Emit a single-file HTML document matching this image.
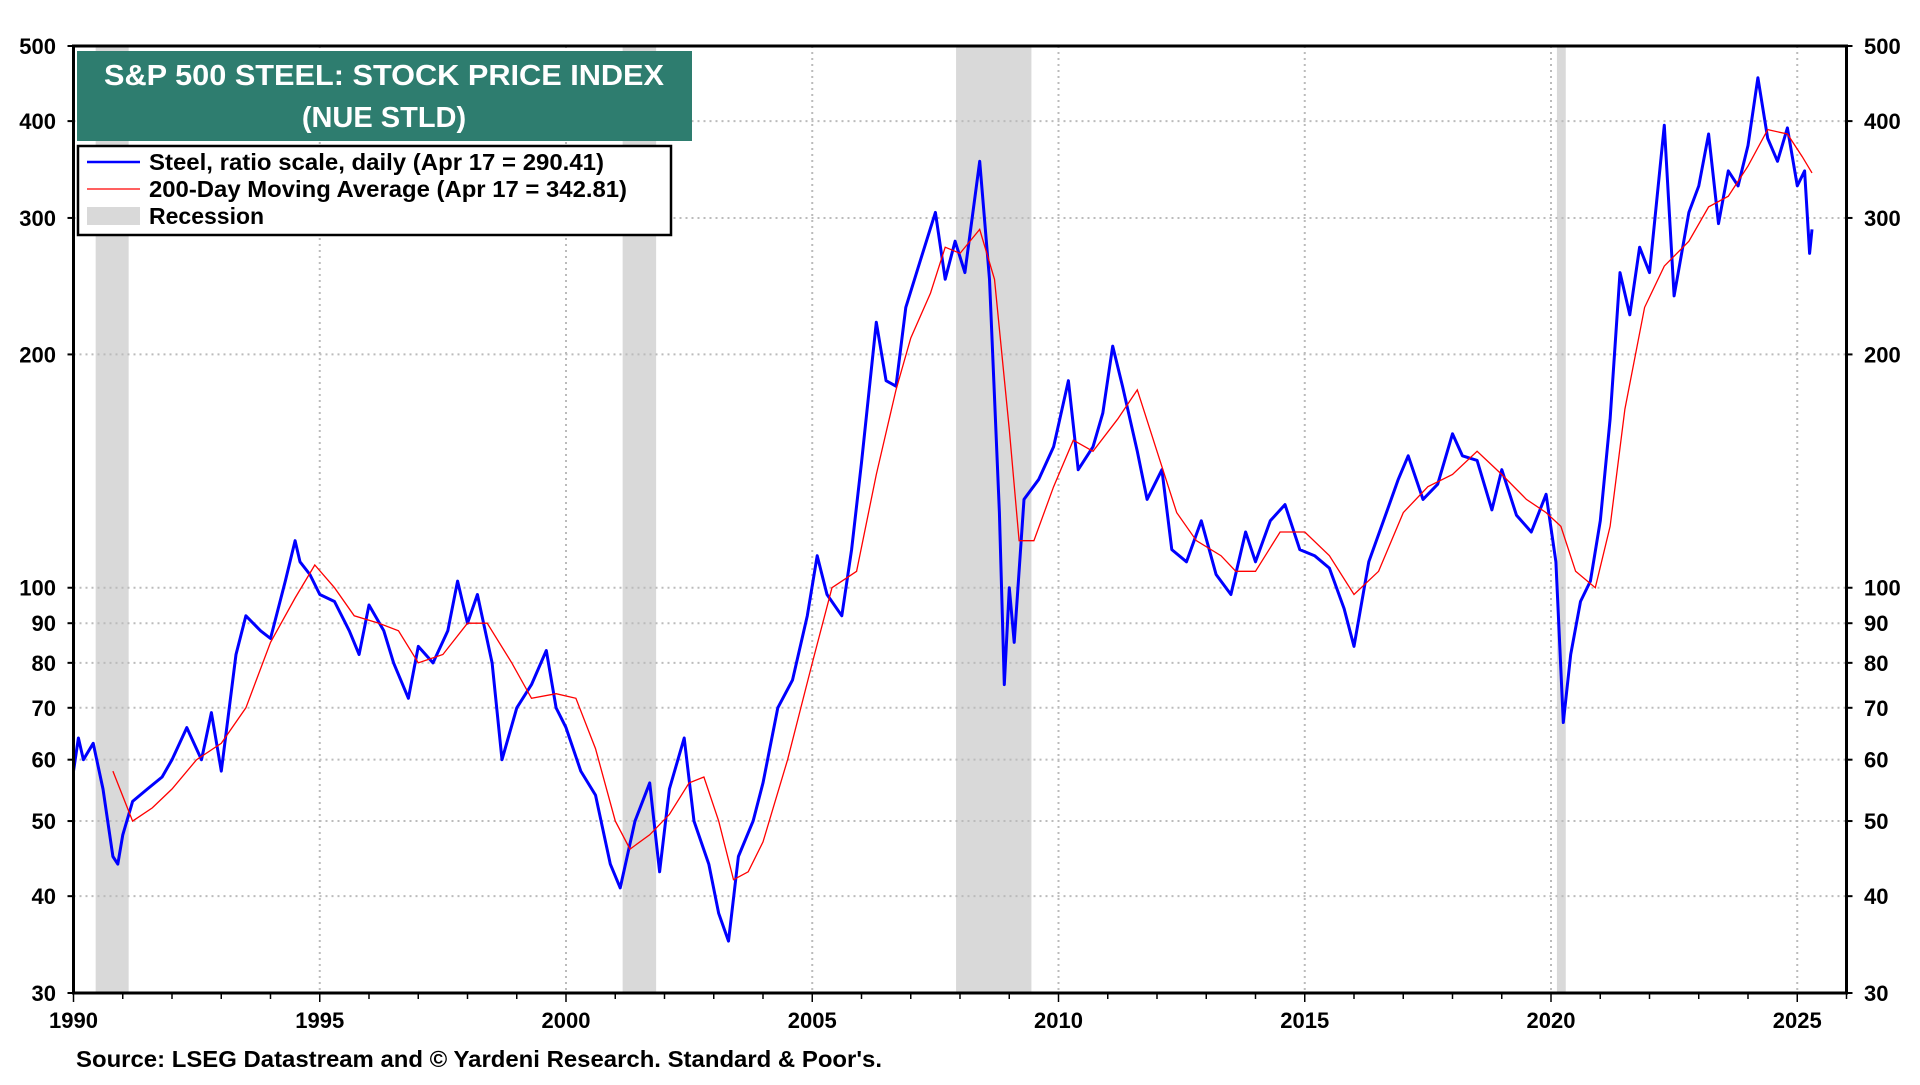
<!DOCTYPE html>
<html><head><meta charset="utf-8"><style>
body{margin:0;background:#fff;}
svg text{font-family:"Liberation Sans",Arial,sans-serif;font-weight:bold;}
</style></head><body>
<svg id="chart" width="1920" height="1080" viewBox="0 0 1920 1080" xmlns="http://www.w3.org/2000/svg">
<g id="rec"></g><g id="grid"></g><g id="series"></g><g id="axes"></g>
<rect x="77" y="51" width="615" height="90" fill="#2e7d6f"/>
<text x="384" y="85" fill="#fff" font-size="29" text-anchor="middle" textLength="560" lengthAdjust="spacingAndGlyphs">S&amp;P 500 STEEL: STOCK PRICE INDEX</text>
<text x="384" y="127" fill="#fff" font-size="29" text-anchor="middle">(NUE STLD)</text>
<g>
<rect x="78" y="146" width="593" height="89" fill="#fff" stroke="#000" stroke-width="2.5"/>
<line x1="87" y1="162" x2="140" y2="162" stroke="#0000ff" stroke-width="2.5"/>
<text x="149" y="170" font-size="23" textLength="455" lengthAdjust="spacingAndGlyphs">Steel, ratio scale, daily (Apr 17 = 290.41)</text>
<line x1="87" y1="189" x2="140" y2="189" stroke="#ff0000" stroke-width="1.2"/>
<text x="149" y="197" font-size="23" textLength="478" lengthAdjust="spacingAndGlyphs">200-Day Moving Average (Apr 17 = 342.81)</text>
<rect x="87" y="207" width="53" height="18" fill="#d9d9d9"/>
<text x="149" y="224" font-size="23">Recession</text>
</g>
<text x="76" y="1067" font-size="23" textLength="806" lengthAdjust="spacingAndGlyphs">Source: LSEG Datastream and © Yardeni Research. Standard &amp; Poor's.</text>
</svg>
<script>
const steelYears=[1990.0,1990.1,1990.2,1990.4,1990.6,1990.8,1990.9,1991.0,1991.2,1991.5,1991.8,1992.0,1992.3,1992.6,1992.8,1993.0,1993.3,1993.5,1993.8,1994.0,1994.3,1994.5,1994.6,1994.8,1995.0,1995.3,1995.6,1995.8,1996.0,1996.3,1996.5,1996.8,1997.0,1997.3,1997.6,1997.8,1998.0,1998.2,1998.5,1998.7,1999.0,1999.3,1999.6,1999.8,2000.0,2000.3,2000.6,2000.9,2001.1,2001.4,2001.7,2001.9,2002.1,2002.4,2002.6,2002.9,2003.1,2003.3,2003.5,2003.8,2004.0,2004.3,2004.6,2004.9,2005.1,2005.3,2005.6,2005.8,2006.0,2006.3,2006.5,2006.7,2006.9,2007.2,2007.5,2007.7,2007.9,2008.1,2008.4,2008.6,2008.8,2008.9,2009.0,2009.1,2009.3,2009.6,2009.9,2010.2,2010.4,2010.7,2010.9,2011.1,2011.3,2011.6,2011.8,2012.1,2012.3,2012.6,2012.9,2013.2,2013.5,2013.8,2014.0,2014.3,2014.6,2014.9,2015.2,2015.5,2015.8,2016.0,2016.3,2016.6,2016.9,2017.1,2017.4,2017.7,2018.0,2018.2,2018.5,2018.8,2019.0,2019.3,2019.6,2019.9,2020.1,2020.25,2020.4,2020.6,2020.8,2021.0,2021.2,2021.4,2021.6,2021.8,2022.0,2022.3,2022.5,2022.8,2023.0,2023.2,2023.4,2023.6,2023.8,2024.0,2024.2,2024.4,2024.6,2024.8,2025.0,2025.15,2025.25,2025.3];
const steelValues=[58,64,60,63,55,45,44,48,53,55,57,60,66,60,69,58,82,92,88,86,102,115,108,104,98,96,88,82,95,88,80,72,84,80,88,102,90,98,80,60,70,75,83,70,66,58,54,44,41,50,56,43,55,64,50,44,38,35,45,50,56,70,76,92,110,98,92,112,145,220,185,182,230,265,305,250,280,255,355,250,125,75,100,85,130,138,152,185,142,152,168,205,182,150,130,142,112,108,122,104,98,118,108,122,128,112,110,106,94,84,108,122,138,148,130,136,158,148,146,126,142,124,118,132,108,67,82,96,102,122,165,255,225,275,255,395,238,305,330,385,295,345,330,372,455,380,355,392,330,345,270,290];
const maYears=[1990.8,1991.2,1991.6,1992.0,1992.5,1993.0,1993.5,1994.0,1994.5,1994.9,1995.3,1995.7,1996.2,1996.6,1997.0,1997.5,1998.0,1998.4,1998.9,1999.3,1999.8,2000.2,2000.6,2001.0,2001.3,2001.7,2002.1,2002.5,2002.8,2003.1,2003.4,2003.7,2004.0,2004.5,2005.0,2005.4,2005.9,2006.3,2006.7,2007.0,2007.4,2007.7,2008.0,2008.4,2008.7,2009.0,2009.2,2009.5,2009.9,2010.3,2010.7,2011.2,2011.6,2012.0,2012.4,2012.8,2013.3,2013.6,2014.0,2014.5,2015.0,2015.5,2016.0,2016.5,2017.0,2017.5,2018.0,2018.5,2019.0,2019.5,2019.9,2020.2,2020.5,2020.9,2021.2,2021.5,2021.9,2022.3,2022.8,2023.2,2023.6,2024.0,2024.4,2024.8,2025.1,2025.3];
const maValues=[58,50,52,55,60,63,70,85,97,107,100,92,90,88,80,82,90,90,80,72,73,72,62,50,46,48,51,56,57,50,42,43,47,60,80,100,105,140,180,210,240,275,270,290,250,160,115,115,135,155,150,165,180,150,125,115,110,105,105,118,118,110,98,105,125,135,140,150,140,130,125,120,105,100,120,170,230,260,280,310,320,350,390,385,360,343];
const recessions=[[1990.45,1991.12],[2001.15,2001.83],[2007.92,2009.45],[2020.12,2020.3]];
const yTicks=[30,40,50,60,70,80,90,100,200,300,400,500];
const xTicks=[1990,1995,2000,2005,2010,2015,2020,2025];

const L=73.5,R=1846.5,T=46,B=993;
const X0=1990,X1=2026.0,YMIN=30,YMAX=500;
const xs=v=>L+(v-X0)/(X1-X0)*(R-L);
const ys=v=>B-(Math.log(v/YMIN))/Math.log(YMAX/YMIN)*(B-T);
const NS='http://www.w3.org/2000/svg';
function mk(tag,attrs,parent){const e=document.createElementNS(NS,tag);for(const k in attrs)e.setAttribute(k,attrs[k]);document.getElementById(parent).appendChild(e);return e;}

recessions.forEach(r=>{
 const e=mk('rect',{x:xs(r[0]),y:T,width:xs(r[1])-xs(r[0]),height:B-T,fill:'#d9d9d9'},'rec');
 
 
});
yTicks.forEach(v=>{
 if(v!==30&&v!==500){const g=mk('line',{x1:L,x2:R,y1:ys(v),y2:ys(v),stroke:'#bbb','stroke-width':2,'stroke-dasharray':'2,4'},'grid');
 
 }
 const t1=mk('text',{x:56,y:ys(v)+8,'font-size':22,'text-anchor':'end'},'axes');t1.textContent=v;
 
 
 const t2=mk('text',{x:1864,y:ys(v)+8,'font-size':22},'axes');t2.textContent=v;
 
 
 mk('line',{x1:L-6,x2:L,y1:ys(v),y2:ys(v),stroke:'#000','stroke-width':2},'axes');
 mk('line',{x1:R,x2:R+6,y1:ys(v),y2:ys(v),stroke:'#000','stroke-width':2},'axes');
});
xTicks.forEach(v=>{
 if(v>1990){const g=mk('line',{x1:xs(v),x2:xs(v),y1:T,y2:B,stroke:'#bbb','stroke-width':2,'stroke-dasharray':'2,4'},'grid');
 
 }
 const t=mk('text',{x:xs(v),y:1028,'font-size':22,'text-anchor':'middle'},'axes');t.textContent=v;
 
 
});
for(let y=1990;y<=2026;y++){mk('line',{x1:xs(y),x2:xs(y),y1:B,y2:B+(y%5===0?9:6),stroke:'#000','stroke-width':1.5},'axes');}

const pts=(xa,va)=>xa.map((x,i)=>xs(x).toFixed(1)+','+ys(va[i]).toFixed(1)).join(' ');
const s=mk('polyline',{points:pts(steelYears,steelValues),fill:'none',stroke:'#0000ff','stroke-width':3,'stroke-linejoin':'round'},'series');


const m=mk('polyline',{points:pts(maYears,maValues),fill:'none',stroke:'#ff0000','stroke-width':1.3},'series');


const f=mk('rect',{x:L,y:T,width:R-L,height:B-T,fill:'none',stroke:'#000','stroke-width':3},'axes');


</script>
</body></html>
